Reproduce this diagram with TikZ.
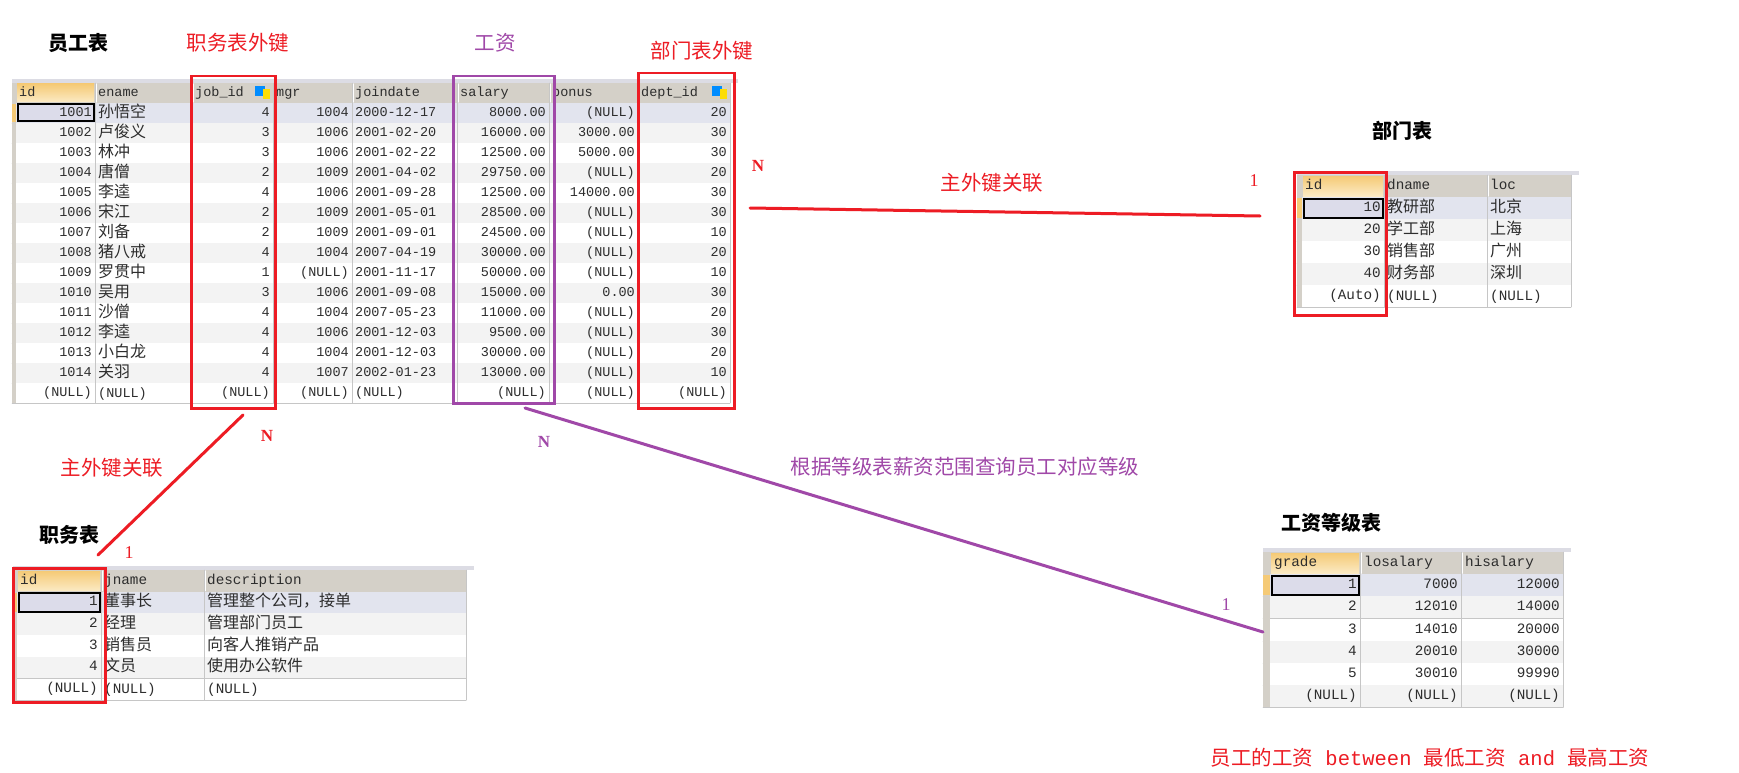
\documentclass[tikz,border=0pt]{standalone}
\usepackage{fontspec}
\setmainfont{Liberation Serif}
\setmonofont{Liberation Mono}
\newfontfamily\cjk{Noto Sans CJK SC}
\usepackage{tikz}

\definecolor{hdrgray}{RGB}{212,208,200}
\definecolor{hdrtop}{RGB}{245,202,118}
\definecolor{hdrbot}{RGB}{251,234,196}
\definecolor{selrow}{RGB}{226,228,238}
\definecolor{selfill}{RGB}{220,220,234}
\definecolor{evenrow}{RGB}{243,243,243}
\definecolor{gridgray}{RGB}{198,198,198}
\definecolor{topband}{RGB}{220,220,228}
\definecolor{celltext}{RGB}{45,45,45}
\definecolor{fkred}{RGB}{237,28,36}
\definecolor{rangecolor}{RGB}{160,72,168}

\newcommand{\monosize}{13.5}
\newcommand{\cjksize}{16}
\newcommand{\nulltxt}{\ttfamily\fontsize{\monosize}{\monosize}\selectfont(NULL)}

% grid of one result table
% #1 strip left, #2 first column left, #3 first column right, #4 right edge,
% #5 other column borders, #6 header top, #7 row height, #8 data rows
\newcommand{\dbtable}[8]{%
	\pgfmathsetmacro\hb{#6+#7}%
	\pgfmathsetmacro\tb{#6+(#8+1)*#7}%
	\fill[topband] (#1,#6-4) rectangle (#4+8,#6);
	\fill[hdrgray] (#1,#6) rectangle (#4,\hb);
	\shade[top color=hdrtop,bottom color=hdrbot] (#2+1,#6+1) rectangle (#3-1,\hb-1);
	\foreach \k in {1,...,#8}{%
		\pgfmathsetmacro\ya{#6+\k*#7}%
		\pgfmathsetmacro\yb{\ya+#7}%
		\ifodd\k \def\rowcol{white}\else \def\rowcol{evenrow}\fi
		\ifnum\k=1 \def\rowcol{selrow}\fi
		\fill[\rowcol] (#2,\ya) rectangle (#4,\yb);
		\draw[gridgray] (#1,\yb) -- (#4,\yb);
	}
	\fill[hdrgray] (#1,\hb) rectangle (#2,\tb);
	\fill[hdrtop] (#1,\hb+1) rectangle (#2,\hb+#7-1);
	\foreach \xx in {#3,#5,#4} \draw[gridgray] (\xx,#6) -- (\xx,\tb);
	\foreach \xx in {#3,#5} \draw[white,line width=1.2pt] (\xx+1.2,#6+1) -- (\xx+1.2,\hb-1);
	\draw[line width=2pt,fill=selfill] (#2+1.5,\hb+1.5) rectangle (#3-1.5,\hb+#7-1.5);
}

\begin{document}
\begin{tikzpicture}
		[x=1pt,y=-1pt,line cap=round,
		%Styles
		numcell/.style={anchor=mid east,inner sep=0pt,yshift=-1pt,text=celltext,font=\ttfamily\fontsize{\monosize}{\monosize}\selectfont},
		txtcell/.style={numcell,anchor=mid west},
		cjkcell/.style={txtcell,yshift=-1pt,font=\cjk\fontsize{\cjksize}{\cjksize}\selectfont},
		tabletitle/.style={inner sep=0pt,font=\cjk\bfseries\fontsize{20}{24}\selectfont},
		linknote/.style={inner sep=0pt,font=\cjk\fontsize{20.5}{24}\selectfont},
		cardlbl/.style={inner sep=0pt,font=\fontsize{18}{18}\selectfont},
		cardn/.style={cardlbl,font=\bfseries\fontsize{17}{17}\selectfont},
		keybox/.style={draw,line width=2.5pt,anchor=north west,inner sep=0pt},
		relline/.style={line width=3pt}
		]
		
		%Colors
		\colorlet{iconblue}{blue!45!cyan}
		\colorlet{iconyellow}{yellow!80!orange}
		
		\useasboundingbox (0,0) rectangle (1739,773);
		\fill[white] (0,0) rectangle (1739,773);
		
		%The graphic
		% employee table
		\dbtable{12}{16}{95}{730}{192,273,352,457,549,638}{83}{20}{15}
		\foreach \x/\t [count=\c] in {19/id,98/ename,195/job\_id,276/mgr,355/joindate,460/salary,552/bonus,641/dept\_id}
			\node[txtcell] (eh\c) at (\x,93) {\t};
		\foreach \x in {255,712} {
			\fill[iconblue] (\x,86) rectangle (\x+10,96);
			\fill[iconyellow] (\x+8,89) rectangle (\x+15,99);
		}
		\foreach \k/\eid/\ename/\ejob/\emgr/\edate/\esal/\ebonus/\edept in {
			1/1001/孙悟空/4/1004/2000-12-17/8000.00/\nulltxt/20,
			2/1002/卢俊义/3/1006/2001-02-20/16000.00/3000.00/30,
			3/1003/林冲/3/1006/2001-02-22/12500.00/5000.00/30,
			4/1004/唐僧/2/1009/2001-04-02/29750.00/\nulltxt/20,
			5/1005/李逵/4/1006/2001-09-28/12500.00/14000.00/30,
			6/1006/宋江/2/1009/2001-05-01/28500.00/\nulltxt/30,
			7/1007/刘备/2/1009/2001-09-01/24500.00/\nulltxt/10,
			8/1008/猪八戒/4/1004/2007-04-19/30000.00/\nulltxt/20,
			9/1009/罗贯中/1/\nulltxt/2001-11-17/50000.00/\nulltxt/10,
			10/1010/吴用/3/1006/2001-09-08/15000.00/0.00/30,
			11/1011/沙僧/4/1004/2007-05-23/11000.00/\nulltxt/20,
			12/1012/李逵/4/1006/2001-12-03/9500.00/\nulltxt/30,
			13/1013/小白龙/4/1004/2001-12-03/30000.00/\nulltxt/20,
			14/1014/关羽/4/1007/2002-01-23/13000.00/\nulltxt/10,
			15/\nulltxt/\nulltxt/\nulltxt/\nulltxt/\nulltxt/\nulltxt/\nulltxt/\nulltxt}{
			\pgfmathsetmacro\ym{93+20*\k}
			\node[numcell] (e\k-id) at (92,\ym) {\eid};
			\node[cjkcell] (e\k-name) at (98,\ym) {\ename};
			\node[numcell] (e\k-job) at (270,\ym) {\ejob};
			\node[numcell] (e\k-mgr) at (349,\ym) {\emgr};
			\node[txtcell] (e\k-date) at (355,\ym) {\edate};
			\node[numcell] (e\k-sal) at (546,\ym) {\esal};
			\node[numcell] (e\k-bonus) at (635,\ym) {\ebonus};
			\node[numcell] (e\k-dept) at (727,\ym) {\edept};
		}
		
		% job table
		\renewcommand{\monosize}{14.3}
		\dbtable{13}{17}{101}{466}{204}{570}{21.7}{5}
		\foreach \x/\t [count=\c] in {20/id,104/jname,207/description}
			\node[txtcell] (jh\c) at (\x,580.85) {\t};
		\foreach \k/\jid/\jname/\jdesc in {1/1/董事长/管理整个公司，接单,2/2/经理/管理部门员工,
			3/3/销售员/向客人推销产品,4/4/文员/使用办公软件,5/\nulltxt/\nulltxt/\nulltxt}{
			\pgfmathsetmacro\ym{580.85+21.7*\k}
			\node[numcell] (j\k-id) at (98,\ym) {\jid};
			\node[cjkcell] (j\k-name) at (104,\ym) {\jname};
			\node[cjkcell] (j\k-desc) at (207,\ym) {\jdesc};
		}
		
		% department table
		\dbtable{1297}{1302}{1384}{1571}{1487}{175}{22}{5}
		\foreach \x/\t [count=\c] in {1305/id,1387/dname,1490/loc}
			\node[txtcell] (dh\c) at (\x,186) {\t};
		\foreach \k/\did/\dname/\dloc in {1/10/教研部/北京,2/20/学工部/上海,3/30/销售部/广州,
			4/40/财务部/深圳,5/(Auto)/\nulltxt/\nulltxt}{
			\pgfmathsetmacro\ym{186+22*\k}
			\node[numcell] (d\k-id) at (1381,\ym) {\did};
			\node[cjkcell] (d\k-name) at (1387,\ym) {\dname};
			\node[cjkcell] (d\k-loc) at (1490,\ym) {\dloc};
		}
		
		% salary grade table
		\dbtable{1263}{1270}{1360}{1563}{1461}{552}{22.2}{6}
		\foreach \x/\t [count=\c] in {1274/grade,1364/losalary,1465/hisalary}
			\node[txtcell] (gh\c) at (\x,563.1) {\t};
		\foreach \k/\gid/\glo/\ghi in {1/1/7000/12000,2/2/12010/14000,3/3/14010/20000,
			4/4/20010/30000,5/5/30010/99990,6/\nulltxt/\nulltxt/\nulltxt}{
			\pgfmathsetmacro\ym{563.1+22.2*\k}
			\node[numcell] (g\k-id) at (1357,\ym) {\gid};
			\node[numcell] (g\k-lo) at (1458,\ym) {\glo};
			\node[numcell] (g\k-hi) at (1560,\ym) {\ghi};
		}
		
		% key columns
		\node[keybox,draw=fkred,minimum width=84,minimum height=332] (jobkey) at (190,75) {};
		\node[keybox,draw=fkred,minimum width=96,minimum height=335] (deptkey) at (637,72) {};
		\node[keybox,draw=rangecolor,minimum width=101,minimum height=327] (salbox) at (452,75) {};
		\node[keybox,draw=fkred,minimum width=92,minimum height=143] (deptid) at (1293,171) {};
		\node[keybox,draw=fkred,minimum width=92,minimum height=134] (jobid) at (12,567) {};
		
		% relations
		\coordinate (deptfrom) at (750,208);
		\coordinate (deptto) at (1260,216);
		\coordinate (jobfrom) at (243,415);
		\coordinate (jobto) at (98,555);
		\coordinate (salfrom) at (525,408);
		\coordinate (salto) at (1263,632);
		\draw[relline,fkred] (deptfrom) -- (deptto);
		\draw[relline,fkred] (jobfrom) -- (jobto);
		\draw[relline,rangecolor] (salfrom) -- (salto);
		
		% labels
		\node[tabletitle] (emptitle) at (78,43) {员工表};
		\node[linknote,fkred] (jobfk) at (238,43) {职务表外键};
		\node[linknote,rangecolor] (saltag) at (495,43) {工资};
		\node[linknote,fkred] (deptfk) at (702,51) {部门表外键};
		\node[tabletitle] (depttitle) at (1402,131) {部门表};
		\node[cardn,fkred] (deptn) at (758,166) {N};
		\node[linknote,fkred] (deptrel) at (992,183) {主外键关联};
		\node[cardlbl,fkred] (dept1) at (1254,181) {1};
		\node[cardn,fkred] (jobn) at (267,436) {N};
		\node[linknote,fkred] (jobrel) at (112,468) {主外键关联};
		\node[tabletitle] (jobtitle) at (69,535) {职务表};
		\node[cardlbl,fkred] (job1) at (129,553) {1};
		\node[cardn,rangecolor] (saln) at (544,442) {N};
		\node[linknote,rangecolor] (salrel) at (965,467) {根据等级表薪资范围查询员工对应等级};
		\node[cardlbl,rangecolor] (sal1) at (1226,605) {1};
		\node[tabletitle] (gradetitle) at (1331,523) {工资等级表};
		\node[linknote,fkred] (rangenote) at (1430,758) {员工的工资\texttt{ between }最低工资\texttt{ and }最高工资};
	\end{tikzpicture}
\end{document}
